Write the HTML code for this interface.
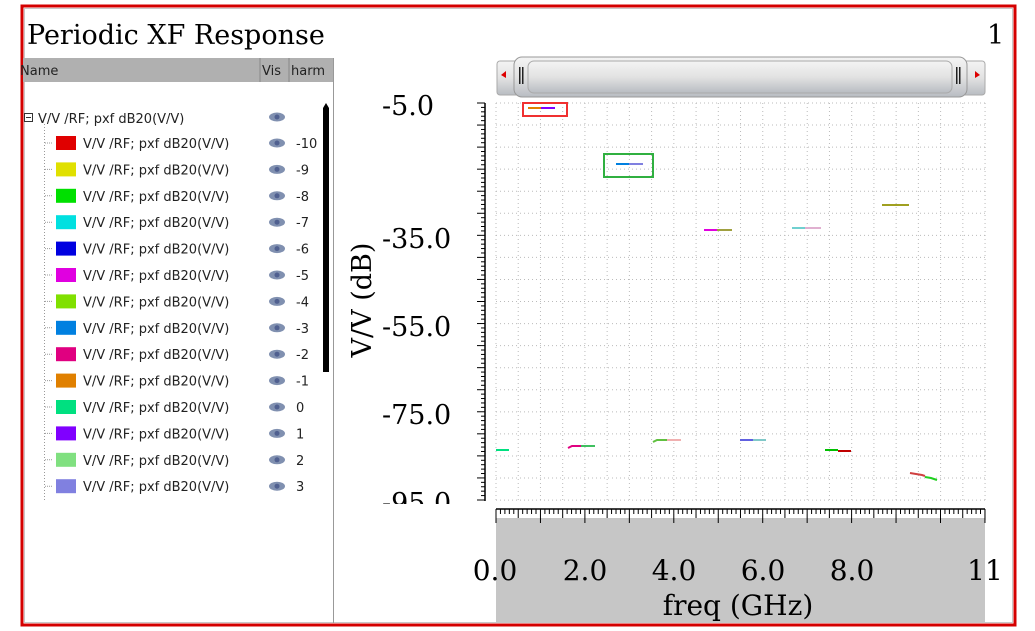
<!DOCTYPE html>
<html><head><style>
body{margin:0;width:1035px;height:631px;background:#fff;position:relative;overflow:hidden;font-family:"DejaVu Sans","Liberation Sans",sans-serif}
.a{position:absolute}
</style></head><body>
<svg class="a" style="left:0;top:0" width="1035" height="631">
<defs>
<linearGradient id="sb" x1="0" y1="0" x2="0" y2="1"><stop offset="0" stop-color="#f4f4f4"/><stop offset=".5" stop-color="#e2e2e2"/><stop offset="1" stop-color="#b8bcc2"/></linearGradient>
</defs>
<rect x="22" y="6" width="993" height="619" fill="#fff" stroke="#d40000" stroke-width="3"/>
<rect x="24.5" y="8.5" width="988" height="614" fill="none" stroke="#c8c8c8" stroke-width="1"/>
<text x="27" y="44" font-family="DejaVu Serif" font-size="27">Periodic XF Response</text>
<text x="987" y="44" font-family="DejaVu Serif" font-size="27">1</text>
<!-- left panel -->
<rect x="23" y="58" width="310" height="24" fill="#b0b0b0"/>
<line x1="260" y1="58" x2="260" y2="82" stroke="#888"/>
<line x1="289" y1="58" x2="289" y2="82" stroke="#888"/>
<line x1="333.5" y1="58" x2="333.5" y2="623" stroke="#999"/>
<text x="20" y="75" font-size="13" fill="#222">Name</text>
<text x="262" y="75" font-size="13" fill="#222">Vis</text>
<text x="291" y="75" font-size="13" fill="#222">harm</text>
<path d="M323 108 L326 103 L329 108 L329 372 L323 372 Z" fill="#000"/>
<line x1="44.5" y1="124" x2="44.5" y2="500" stroke="#999" stroke-dasharray="1,2"/>
<rect x="24.5" y="113.5" width="8" height="8" fill="none" stroke="#333"/>
<line x1="26" y1="117.5" x2="31" y2="117.5" stroke="#333"/>
<text x="38" y="123" font-size="13" fill="#222">V/V /RF; pxf dB20(V/V)</text>
<g id="rows"></g>
<g id="grid" stroke="#bbb" stroke-dasharray="1,3"></g>
<g id="ax" stroke="#000"></g>
<!-- scrollbar -->
<rect x="497" y="61" width="488" height="34" rx="3" fill="url(#sb)" stroke="#aaa"/>
<rect x="514" y="57" width="453" height="40" rx="8" fill="url(#sb)" stroke="#999"/>
<rect x="528" y="61" width="424" height="32" rx="6" fill="url(#sb)" stroke="#aaa"/>
<rect x="519" y="67" width="1.5" height="17" fill="#222"/><rect x="522" y="67" width="1.5" height="17" fill="#222"/>
<rect x="956" y="67" width="1.5" height="17" fill="#222"/><rect x="959" y="67" width="1.5" height="17" fill="#222"/>
<path d="M501 75 L506 71 L506 78 Z" fill="#d00"/><path d="M980 75 L975 71 L975 78 Z" fill="#d00"/>
<!-- y labels -->
<g font-family="DejaVu Serif" font-size="27">
<text x="382" y="115">-5.0</text>
<text x="382" y="248">-35.0</text>
<text x="382" y="336">-55.0</text>
<text x="382" y="424">-75.0</text>
</g>
<svg x="370" y="480" width="100" height="24"><text x="12" y="32" font-family="DejaVu Serif" font-size="27">-95.0</text></svg>
<text transform="translate(371,300) rotate(-90)" font-family="DejaVu Serif" font-size="27" text-anchor="middle">V/V (dB)</text>
<!-- bottom -->
<rect x="496" y="518" width="489" height="105" fill="#c6c6c6"/>
<g id="bx" stroke="#000"></g>
<g font-family="DejaVu Serif" font-size="28" text-anchor="middle">
<text x="495" y="580">0.0</text><text x="585" y="580">2.0</text><text x="674" y="580">4.0</text><text x="763" y="580">6.0</text><text x="852" y="580">8.0</text><text x="985" y="580">11</text>
<text x="738" y="615">freq (GHz)</text>
</g>
<!-- data -->
<g stroke-width="2" fill="none">
<rect x="523" y="103" width="44" height="13" stroke="#f03030"/>
<rect x="604" y="154" width="49" height="23" stroke="#30b040"/>
<line x1="528" y1="108" x2="541" y2="108" stroke="#e08000"/><line x1="541" y1="108" x2="555" y2="108" stroke="#8000ff"/>
<line x1="616" y1="164" x2="629" y2="164" stroke="#0080e0"/><line x1="629" y1="164" x2="643" y2="164" stroke="#8080e0"/>
<line x1="882" y1="205" x2="909" y2="205" stroke="#a0a020"/>
<line x1="704" y1="230" x2="717" y2="230" stroke="#e000e0"/><line x1="717" y1="230" x2="732" y2="230" stroke="#a0a040"/>
<line x1="792" y1="228" x2="805" y2="228" stroke="#70d0d0"/><line x1="805" y1="228" x2="821" y2="228" stroke="#e0b0d0"/>
<line x1="496" y1="450" x2="509" y2="450" stroke="#00e080"/>
<polyline points="568,448 572,446 581,446" stroke="#e00080"/><line x1="581" y1="446" x2="595" y2="446" stroke="#40c060"/>
<polyline points="653,442 657,440 667,440" stroke="#60c040"/><line x1="667" y1="440" x2="681" y2="440" stroke="#f0b0b0"/>
<line x1="740" y1="440" x2="753" y2="440" stroke="#6060e0"/><line x1="753" y1="440" x2="766" y2="440" stroke="#80c8c8"/>
<line x1="825" y1="450" x2="838" y2="450" stroke="#00c000"/><line x1="838" y1="451" x2="851" y2="451" stroke="#c00000"/>
<polyline points="910,473 916,474 922,475 925,476" stroke="#d04040"/><polyline points="925,477 931,478 937,480" stroke="#20d020"/>
</g>
</svg>
<script>
var ns="http://www.w3.org/2000/svg";
function el(p,t,a){var e=document.createElementNS(ns,t);for(var k in a)e.setAttribute(k,a[k]);document.getElementById(p).appendChild(e);return e;}
var cols=["#e00000","#e0e000","#00e000","#00e0e0","#0000e0","#e000e0","#80e000","#0080e0","#e00080","#e08000","#00e080","#8000ff","#80e080","#8080e0"];
var eye=function(y){el("rows","ellipse",{cx:277,cy:y,rx:8,ry:4.5,fill:"#8090b0"});el("rows","circle",{cx:277,cy:y,r:2.5,fill:"#506090"});};
eye(117);
for(var i=0;i<14;i++){var y=143+i*26.4;
el("rows","line",{x1:45,y1:y,x2:52,y2:y,stroke:"#999","stroke-dasharray":"1,1"});
el("rows","rect",{x:56,y:y-7,width:20,height:14,fill:cols[i]});
var t=el("rows","text",{x:83,y:y+5,"font-size":13,fill:"#222"});t.textContent="V/V /RF; pxf dB20(V/V)";
eye(y);
var n=el("rows","text",{x:296,y:y+5,"font-size":13,fill:"#222"});n.textContent=String(i-10);}
for(var k=0;k<=22;k++){var x=496+k*22.23;el("grid","line",{x1:x,y1:103,x2:x,y2:500});}
for(var k=0;k<=18;k++){var y=103+k*22.06;el("grid","line",{x1:496,y1:y,x2:985,y2:y});}
el("ax","line",{x1:485,y1:103,x2:485,y2:501,"stroke-width":1.5});
for(var k=0;k<=90;k++){var y=103+k*4.411;var L=(k%5==0)?8:4;el("ax","line",{x1:485-L,y1:y,x2:485,y2:y});}
el("bx","line",{x1:496,y1:509,x2:985,y2:509,"stroke-width":1.5});
el("bx","rect",{x:496,y:510,width:489,height:8,fill:"#fff",stroke:"none"});
for(var k=0;k<=110;k++){var x=496+k*4.445;var L=(k%10==0)?14:(k%5==0?9:5);el("bx","line",{x1:x,y1:509,x2:x,y2:509+L});}
el("bx","line",{x1:985,y1:509,x2:985,y2:520});
</script>
</body></html>
